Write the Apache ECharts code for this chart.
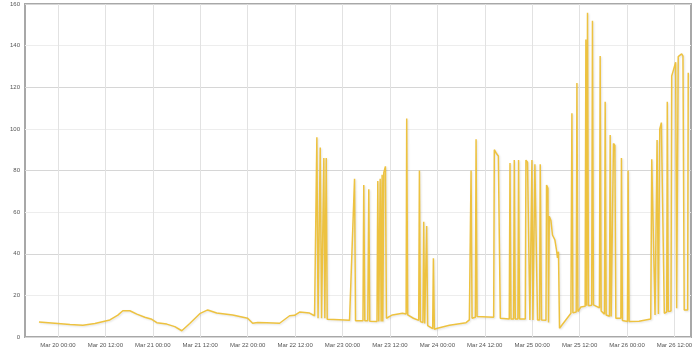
<!DOCTYPE html>
<html>
<head>
<meta charset="utf-8">
<script src="https://cdn.jsdelivr.net/npm/echarts@6/dist/echarts.min.js"></script>
<style>html,body{margin:0;padding:0;background:#fff}#c{width:700px;height:349px}</style>
</head>
<body>
<div id="c"></div>
<script>
const YEAR = '2015-';
const times = [
"03-19 19:12","03-20 00:00","03-20 03:02","03-20 06:19","03-20 09:21","03-20 13:08","03-20 15:10","03-20 16:25","03-20 18:12","03-20 19:58","03-20 21:59","03-20 23:45",
"03-21 01:01","03-21 03:32","03-21 05:34","03-21 07:20","03-21 09:21","03-21 11:53","03-21 13:54","03-21 16:10","03-21 20:13",
"03-22 00:00","03-22 01:16","03-22 02:32","03-22 04:48","03-22 08:05","03-22 10:37","03-22 11:53","03-22 13:09","03-22 15:40","03-22 16:56",
"03-22 17:31","03-22 17:49","03-22 18:22","03-22 18:42","03-22 19:17","03-22 19:32","03-22 19:53","03-22 20:08","03-22 23:15",
"03-23 01:47","03-23 03:03","03-23 03:18","03-23 05:11","03-23 05:23","03-23 05:39","03-23 06:24","03-23 06:39","03-23 06:54",
"03-23 08:44","03-23 08:56","03-23 09:11","03-23 09:32","03-23 09:47","03-23 10:02","03-23 10:12","03-23 10:27","03-23 10:52","03-23 11:07",
"03-23 12:38","03-23 15:10","03-23 16:06","03-23 16:15","03-23 16:30","03-23 17:57","03-23 19:17","03-23 19:28","03-23 19:43",
"03-23 20:21","03-23 20:33","03-23 20:48","03-23 21:06","03-23 21:18","03-23 21:33","03-23 22:49","03-23 23:00","03-23 23:15",
"03-24 00:01","03-24 03:03","03-24 07:16","03-24 08:06","03-24 08:21","03-24 08:32","03-24 08:47","03-24 09:37","03-24 09:48","03-24 10:03",
"03-24 14:15","03-24 14:25","03-24 15:00","03-24 15:26","03-24 15:56","03-24 18:12","03-24 18:23","03-24 18:38","03-24 19:17","03-24 19:28","03-24 19:43",
"03-24 20:23","03-24 20:33","03-24 20:48","03-24 22:15","03-24 22:25","03-24 22:49","03-24 23:04","03-24 23:25","03-24 23:45","03-24 23:56",
"03-25 00:11","03-25 00:31","03-25 00:41","03-25 01:06","03-25 01:21","03-25 01:52","03-25 02:02","03-25 02:22","03-25 03:29","03-25 03:38","03-25 03:59",
"03-25 04:08","03-25 04:19","03-25 04:44","03-25 05:08","03-25 05:45","03-25 06:09","03-25 06:24","03-25 06:39","03-25 06:55","03-25 07:20",
"03-25 09:48","03-25 10:03","03-25 10:18","03-25 11:08","03-25 11:19","03-25 11:34","03-25 12:19","03-25 13:24","03-25 13:35","03-25 13:47",
"03-25 14:00","03-25 14:15","03-25 15:03","03-25 15:15","03-25 15:30","03-25 17:01","03-25 17:12","03-25 17:27","03-25 18:17","03-25 18:28","03-25 18:43",
"03-25 19:33","03-25 19:44","03-25 19:59","03-25 20:25","03-25 20:34","03-25 20:55","03-25 21:10","03-25 22:26","03-25 22:35","03-25 22:50",
"03-26 00:06","03-26 00:16","03-26 00:31","03-26 03:02","03-26 06:00","03-26 06:15","03-26 06:35","03-26 07:05","03-26 07:25","03-26 07:36","03-26 07:56",
"03-26 08:06","03-26 08:17","03-26 08:41","03-26 09:11","03-26 09:26","03-26 10:02","03-26 10:11","03-26 10:26","03-26 11:07","03-26 11:18","03-26 11:42",
"03-26 12:18","03-26 12:33","03-26 12:48","03-26 12:57","03-26 13:49","03-26 14:09","03-26 14:28","03-26 15:20","03-26 15:29"
];
const values = [
7.2,6.5,6.0,5.6,6.5,8.2,10.5,12.6,12.6,11,9.5,8.5,
6.9,6.2,5,3.0,6.5,11.2,13,11.5,10.6,
9,6.6,7.0,6.9,6.6,10.2,10.4,12,11.5,10.2,
96,9,91,9,86,9,86,8.5,8.3,
8,76,7.8,7.8,73,7.8,7.8,71,7.6,
7.5,75,7.5,76,7.5,78,7.5,79,82,9,
10.6,11.4,11,105,10.6,9,8,80,7.4,
7,55.4,6.5,6,53.3,5.5,4,37.8,3.7,
4.2,5.6,6.9,8.2,8.5,80,9,9.5,95,9.8,
9.5,90,88,87,9,8.6,83.6,8.6,8.6,85,8.6,
8.6,85,8.6,8.6,85,84,84.5,8.2,8.2,85,
8.2,8.2,83,82.6,8.2,8.2,83,8.2,8,73,71.4,
7,58,56,49,46.6,41.8,38,41,4.2,5,
11.4,107.5,11.6,12,122,12.2,14.4,14.8,143,15,
155.8,15,15.2,152,15.4,14,135,12.5,11,113,10.6,
10,97,9.8,9.5,93,92,9,9,86,7.9,
7.5,80,7.4,7.6,8.6,85.4,86,10.6,10.6,94.7,11,
11,100,103,103,11.4,12,113,12.2,12.5,125.4,128,
132,13.8,13.8,134.7,136,135,13,13,127
];
const xTicks = ["03-20 00:00","03-20 12:00","03-21 00:00","03-21 12:00","03-22 00:00","03-22 12:00","03-23 00:00",
"03-23 12:00","03-24 00:00","03-24 12:00","03-25 00:00","03-25 12:00","03-26 00:00","03-26 12:00"];
const xMinStr = "03-19 15:40";
const xMaxStr = "03-26 16:11";
const yTicks = [0,20,40,60,80,100,120,140,160];

function ts(s){ return echarts.time.parse(YEAR + s).getTime(); }
const tickVals = xTicks.map(ts);

const chart = echarts.init(document.getElementById('c'), null, {renderer:'canvas'});
const data = times.map((t,i)=>[ts(t), values[i]]);
const FONT = 'Liberation Sans, Arial, sans-serif';
chart.setOption({
  animation:false,
  grid:{left:25,right:9,top:4,bottom:12,show:true,borderColor:'#a8a8a8',borderWidth:2,backgroundColor:'transparent'},
  xAxis:{
    type:'value', min:ts(xMinStr), max:ts(xMaxStr), scale:true,
    axisLine:{show:false},
    axisTick:{show:false, customValues:tickVals},
    splitLine:{show:true,lineStyle:{color:'#e2e2e2',width:1}},
    axisLabel:{fontSize:6,color:'#555',fontFamily:FONT,margin:5,hideOverlap:false,
      customValues:tickVals,
      formatter:function(v){return echarts.time.format(v,'{MMM} {dd} {HH}:{mm}',false);}}
  },
  yAxis:{
    type:'value', min:yTicks[0], max:yTicks[yTicks.length-1], interval:20,
    axisLine:{show:false}, axisTick:{show:false},
    splitLine:{show:true,lineStyle:{color:['#d6d6d6','#ededed'],width:1}},
    axisLabel:{fontSize:6,color:'#555',fontFamily:FONT,margin:5}
  },
  series:[{
    type:'line', data:data, showSymbol:false, sampling:null,
    lineStyle:{color:'#edc240',width:1.5,shadowColor:'rgba(0,0,0,0.12)',shadowBlur:2,shadowOffsetX:1,shadowOffsetY:1},
    itemStyle:{color:'#edc240'}
  }]
});
</script>
</body>
</html>
